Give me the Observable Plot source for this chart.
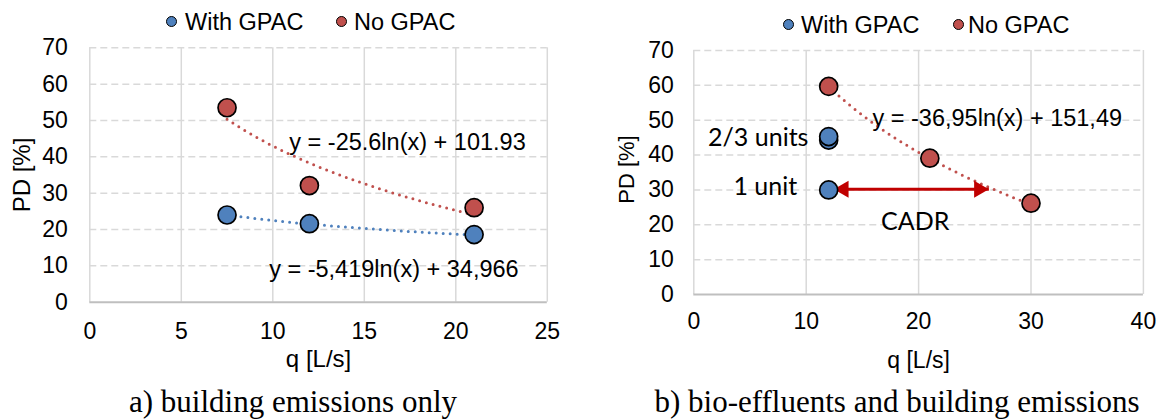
<!DOCTYPE html>
<html><head><meta charset="utf-8">
<script src="https://cdn.jsdelivr.net/npm/d3@7"></script>
<script src="https://cdn.jsdelivr.net/npm/@observablehq/plot@0.6"></script>
<style>
body{margin:0;background:#fff;}
#wrap{position:relative;width:1162px;height:419px;overflow:hidden;font-family:"Liberation Sans",Arial,sans-serif;color:#000;}
.panel{position:absolute;top:0;width:581px;height:380px;}
.lg{position:absolute;font-size:23.5px;line-height:26px;white-space:nowrap;}
.sw{position:absolute;width:9px;height:9px;border-radius:50%;border:1.5px solid #000;}
.caption{position:absolute;font-family:"Liberation Serif","Times New Roman",serif;font-size:31px;line-height:34px;white-space:nowrap;transform:translateX(-50%);}
</style></head>
<body><div id="wrap"></div>
<script>
// ---------- data ----------
const seriesNames = ["With GPAC", "No GPAC"];
const seriesColors = ["#4f81bd", "#c0504d"];
const yTicks = [0, 10, 20, 30, 40, 50, 60, 70];

// panel a) building emissions only
const qWithA = [7.5, 12, 21];
const pdWithA = [24.0, 21.6, 18.6];
const qNoA = [7.5, 12, 21];
const pdNoA = [53.5, 32.1, 26.0];
const xTicksA = [0, 5, 10, 15, 20, 25];
const trendCoefA = [[-5.419, 34.966], [-25.6, 101.93]];
const trendLabelsA = ["y = -5,419ln(x) + 34,966", "y = -25.6ln(x) + 101.93"];
const trendLabelXA = [9.8, 10.9];
const trendLabelYA = [9.0, 43.9];

// panel b) bio-effluents and building emissions
const qWithB = [12, 12, 12];
const pdWithB = [44.3, 45.3, 30.0];
const qNoB = [12, 21, 30];
const pdNoB = [59.7, 39.1, 26.2];
const xTicksB = [0, 10, 20, 30, 40];
const trendCoefB = [-36.95, 151.49];
const trendLabelB = "y = -36,95ln(x) + 151,49";
const trendLabelXB = 15.9, trendLabelYB = 50.4;
const unitTexts = ["2/3 units", "1 unit"];
const unitX = [10.2, 9.2];
const unitY = [45.0, 30.8];
const cadrText = "CADR";
const cadrX = 19.7, cadrY = 20.7;
const arrowX = [12.46, 26.25];
const arrowY = 30.2;

const xLabel = "q [L/s]";
const yLabel = "PD [%]";
const captions = ["a) building emissions only", "b) bio-effluents and building emissions"];

// ---------- helpers ----------
const pts = (xs, ys) => xs.map((x, i) => ({x, y: ys[i]}));
function trend(coef, x0, x1) {
  const n = 60, out = [];
  for (let i = 0; i <= n; i++) { const x = x0 + (x1 - x0) * i / n; out.push({x, y: coef[0] * Math.log(x) + coef[1]}); }
  return out;
}
const gridCol = "#d9d9d9";
const wrap = document.getElementById("wrap");

function legend(panelLeft, items) {
  items.forEach(([cx, tx, cy], i) => {
    const s = document.createElement("div"); s.className = "sw";
    s.style.left = (panelLeft + cx - 6) + "px"; s.style.top = (cy - 6) + "px"; s.style.background = seriesColors[i];
    wrap.appendChild(s);
    const t = document.createElement("div"); t.className = "lg"; t.textContent = seriesNames[i];
    t.style.left = (panelLeft + tx) + "px"; t.style.top = (cy - 13) + "px";
    wrap.appendChild(t);
  });
}
function caption(cx, txt) {
  const c = document.createElement("div"); c.className = "caption"; c.textContent = txt;
  c.style.left = cx + "px"; c.style.top = "385px"; wrap.appendChild(c);
}

// ---------- panel a ----------
const A = Plot.plot({
  width: 581, height: 380,
  marginLeft: 89.3, marginRight: 34.2, marginTop: 47.3, marginBottom: 78.3,
  style: {fontFamily: "Liberation Sans, Arial, sans-serif", fontSize: "23px", background: "transparent", overflow: "visible"},
  x: {domain: [0, 25]},
  y: {domain: [0, 70]},
  marks: [
    Plot.ruleX(xTicksA, {y1: 0, y2: 70, stroke: gridCol, strokeWidth: 1.5}),
    Plot.ruleY(yTicks.slice(1), {stroke: gridCol, strokeWidth: 1.5, strokeDasharray: "7,4"}),
    Plot.ruleY([0], {stroke: "#bfbfbf", strokeWidth: 2}),
    Plot.axisX({ticks: xTicksA, tickSize: 0, tickPadding: 20, fontSize: 23, label: null, tickFormat: d => d}),
    Plot.axisY({ticks: yTicks, tickSize: 0, tickPadding: 22, fontSize: 23, label: null, tickFormat: d => d}),
    Plot.text([xLabel], {frameAnchor: "bottom", lineAnchor: "top", dy: 48, fontSize: 24}),
    Plot.text([yLabel], {frameAnchor: "left", textAnchor: "middle", rotate: -90, dx: -67.6, dy: 0, fontSize: 24}),
    Plot.line(trend(trendCoefA[1], 7.5, 21), {x: "x", y: "y", stroke: seriesColors[1], strokeWidth: 3, strokeDasharray: "0,7", strokeLinecap: "round"}),
    Plot.line(trend(trendCoefA[0], 7.5, 21), {x: "x", y: "y", stroke: seriesColors[0], strokeWidth: 3, strokeDasharray: "0,7", strokeLinecap: "round"}),
    Plot.dot(pts(qNoA, pdNoA), {x: "x", y: "y", r: 9, fill: seriesColors[1], stroke: "#000", strokeWidth: 1.7}),
    Plot.dot(pts(qWithA, pdWithA), {x: "x", y: "y", r: 9, fill: seriesColors[0], stroke: "#000", strokeWidth: 1.7}),
    Plot.text(trendLabelsA.map((t, i) => ({t, x: trendLabelXA[i], y: trendLabelYA[i]})), {x: "x", y: "y", text: "t", textAnchor: "start", fontSize: 23.5})
  ]
});
A.classList.add("panel"); A.style.left = "0px"; wrap.appendChild(A);

// ---------- panel b ----------
const B = Plot.plot({
  width: 581, height: 380,
  marginLeft: 112.3, marginRight: 19.1, marginTop: 50, marginBottom: 86,
  style: {fontFamily: "Liberation Sans, Arial, sans-serif", fontSize: "23px", background: "transparent", overflow: "visible"},
  x: {domain: [0, 40]},
  y: {domain: [0, 70]},
  marks: [
    Plot.ruleX(xTicksB, {y1: 0, y2: 70, stroke: gridCol, strokeWidth: 1.5}),
    Plot.ruleY(yTicks.slice(1), {stroke: gridCol, strokeWidth: 1.5, strokeDasharray: "7,4"}),
    Plot.ruleY([0], {stroke: "#bfbfbf", strokeWidth: 2}),
    Plot.axisX({ticks: xTicksB, tickSize: 0, tickPadding: 18, fontSize: 23, label: null, tickFormat: d => d}),
    Plot.axisY({ticks: yTicks, tickSize: 0, tickPadding: 20, fontSize: 23, label: null, tickFormat: d => d}),
    Plot.text([xLabel], {frameAnchor: "bottom", lineAnchor: "top", dy: 57, fontSize: 23}),
    Plot.text([yLabel], {frameAnchor: "left", textAnchor: "middle", rotate: -90, dx: -67, dy: -3, fontSize: 22}),
    Plot.line(trend(trendCoefB, 12, 30), {x: "x", y: "y", stroke: seriesColors[1], strokeWidth: 3, strokeDasharray: "0,7", strokeLinecap: "round"}),
    Plot.text(unitTexts.map((t, i) => ({t, x: unitX[i], y: unitY[i]})), {x: "x", y: "y", text: "t", textAnchor: "end", fontSize: 25, fontFamily: "Lato, 'Open Sans', sans-serif"}),
    Plot.text([{t: cadrText, x: cadrX, y: cadrY}], {x: "x", y: "y", text: "t", textAnchor: "middle", fontSize: 25, fontFamily: "Lato, 'Open Sans', sans-serif"}),
    Plot.text([{t: trendLabelB, x: trendLabelXB, y: trendLabelYB}], {x: "x", y: "y", text: "t", textAnchor: "start", fontSize: 23.5}),
    Plot.link([{x1: arrowX[0], x2: arrowX[1], y: arrowY}], {x1: "x1", x2: "x2", y1: "y", y2: "y", stroke: "#c00000", strokeWidth: 3.2}),
    Plot.dot([{x: arrowX[0], y: arrowY}], {x: "x", y: "y", symbol: "triangle", rotate: -90, r: 6.3, fill: "#c00000", stroke: "none", dx: 9.8}),
    Plot.dot([{x: arrowX[1], y: arrowY}], {x: "x", y: "y", symbol: "triangle", rotate: 90, r: 6.3, fill: "#c00000", stroke: "none", dx: -9.8}),
    Plot.dot(pts(qNoB, pdNoB), {x: "x", y: "y", r: 9, fill: seriesColors[1], stroke: "#000", strokeWidth: 1.7}),
    Plot.dot(pts(qWithB, pdWithB), {x: "x", y: "y", r: 9, fill: seriesColors[0], stroke: "#000", strokeWidth: 1.7})
  ]
});
B.classList.add("panel"); B.style.left = "581px"; wrap.appendChild(B);

legend(0, [[172.3, 185, 21.7], [342, 354, 21.7]]);
legend(581, [[208, 220, 25], [378, 387, 25]]);
caption(293, captions[0]);
caption(897, captions[1]);
</script></body></html>
